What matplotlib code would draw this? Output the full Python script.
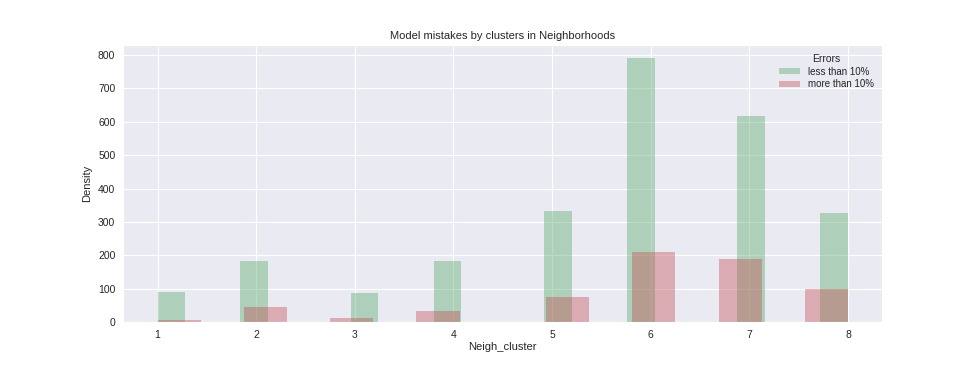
import numpy as np
import matplotlib
matplotlib.use('Agg')
import matplotlib.pyplot as plt
import seaborn as sns

sns.set_style('darkgrid')
plt.rcParams['font.family'] = ['Liberation Sans', 'DejaVu Sans']

# clusters and counts
clusters = [1, 2, 3, 4, 5, 6, 7, 8]
less_than_10 = [91, 183, 87, 183, 332, 791, 617, 328]
more_than_10 = [6, 45, 11, 34, 76, 209, 188, 99]

green = (0.333, 0.659, 0.408)
red = (0.769, 0.306, 0.322)

fig = plt.figure(figsize=(9.8, 3.68), dpi=100)
ax = fig.add_axes([0.1255, 0.125, 0.775, 0.753])

ax.hist(clusters, bins=25, range=(1, 8), weights=less_than_10,
        color=green, alpha=0.4, linewidth=0, label='less than 10%')
ax.hist(clusters, bins=16, range=(1, 8), weights=more_than_10,
        color=red, alpha=0.4, linewidth=0, label='more than 10%')

ax.set_xticks(clusters)
ax.tick_params(labelsize=7.5, pad=2)
ax.set_xlabel('Neigh_cluster', fontsize=8, labelpad=2)
ax.set_ylabel('Density', fontsize=8)
ax.set_title('Model mistakes by clusters in Neighborhoods', fontsize=8, pad=4)
leg = ax.legend(title='Errors', loc='upper right', fontsize=7,
                title_fontsize=7.5, frameon=False, labelspacing=0.3,
                handlelength=2.2, handleheight=0.6, borderaxespad=0.5)

fig.savefig('out.png', dpi=100)
